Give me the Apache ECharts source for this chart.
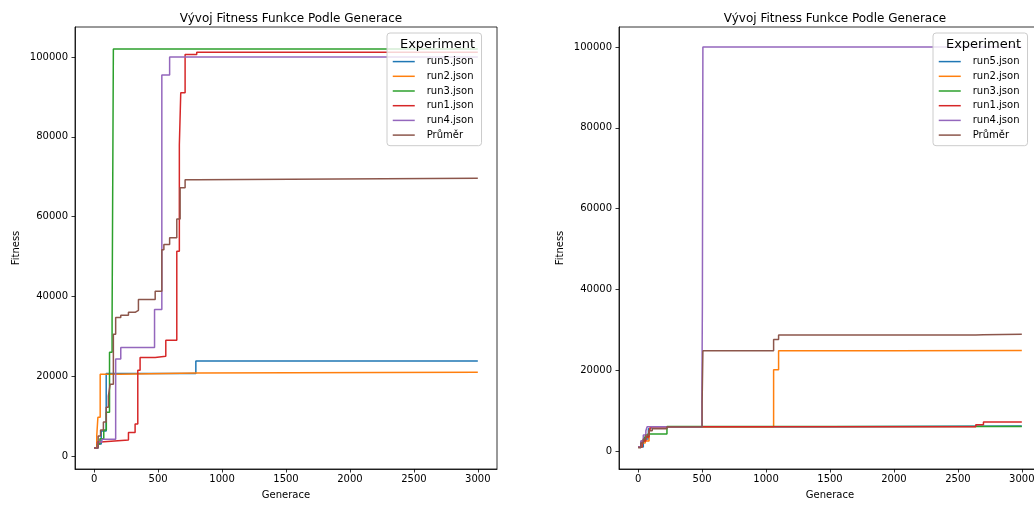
<!DOCTYPE html>
<html><head><meta charset="utf-8">
<script src="https://cdn.jsdelivr.net/npm/echarts@6/dist/echarts.min.js"></script>
<style>html,body{margin:0;padding:0;background:#fff;overflow:hidden;width:1034px;height:505px}#c{width:1044px;height:505px}</style>
</head><body><div id="c"></div>
<script>
const seriesNames = ['run5.json','run2.json','run3.json','run1.json','run4.json','Průměr'];
const seriesColors = ['#1f77b4','#ff7f0e','#2ca02c','#d62728','#9467bd','#8c564b'];
const xTicks = [0,500,1000,1500,2000,2500,3000];
const yTicks = [0,20000,40000,60000,80000,100000];
const chartTitle = 'Vývoj Fitness Funkce Podle Generace';
const xName = 'Generace';
const yName = 'Fitness';
const legendTitle = 'Experiment';

// Left panel: [generation, fitness] step points
const L_run5 = [[0,2000],[30,3000],[55,6300],[94,20700],[795,23800],[3000,23800]];
const L_run2 = [[0,2000],[20,5000],[29,9700],[47,20500],[200,20800],[800,21000],[3000,21000]];
const L_run3 = [[0,2000],[25,3000],[45,4300],[75,6500],[95,11000],[120,26000],[140,34500],[150,102000],[3000,102000]];
const L_run1 = [[0,2000],[25,3500],[50,4000],[268,5900],[320,8000],[341,21500],[359,24700],[477,25000],[560,29000],[646,51300],[666,78000],[677,91000],[711,100600],[802,101200],[3000,101200]];
const L_run4 = [[0,2000],[30,3500],[60,4200],[168,24300],[208,27200],[472,36700],[529,95500],[590,100000],[3000,100000]];
const L_mean = [[0,2000],[31,5000],[50,6500],[72,8500],[94,12200],[111,15000],[125,18000],[150,30500],[168,34700],[208,35300],[268,36000],[320,36500],[346,39200],[477,41300],[529,51700],[545,53000],[590,54700],[646,59400],[672,67200],[711,69200],[800,69600],[3000,69600]];

// Right panel
const R_run5 = [[0,1000],[40,3000],[80,5500],[100,6000],[1500,6200],[3000,6200]];
const R_run2 = [[0,1000],[30,2000],[55,2500],[85,4500],[95,6000],[1059,20100],[1098,24800],[2000,24900],[3000,24900]];
const R_run3 = [[0,1000],[25,2500],[50,3500],[75,4200],[225,6100],[3000,6100]];
const R_run1 = [[0,1000],[30,2500],[60,3500],[85,5000],[100,6000],[2640,6500],[2700,7200],[3000,7200]];
const R_run4 = [[0,1000],[20,2500],[40,4000],[60,5000],[70,6000],[498,12000],[502,36000],[506,100000],[3000,100000]];
const R_mean = [[0,800],[20,2000],[40,3000],[60,4000],[85,5000],[110,5500],[225,6000],[500,12000],[506,24800],[1059,27600],[1098,28700],[2640,28800],[2700,28900],[3000,28900]];

const leftData = [L_run5, L_run2, L_run3, L_run1, L_run4, L_mean];
const rightData = [R_run5, R_run2, R_run3, R_run1, R_run4, R_mean];

const FONT = 'DejaVu Sans';
const chart = echarts.init(document.getElementById('c'), null, {renderer:'canvas'});

function mkX(gridIndex){
  return {
    type:'value', gridIndex, min:-150, max:3150,
    name:xName, nameLocation:'middle', nameGap:21,
    nameTextStyle:{color:'#000', fontSize:10, fontFamily:FONT},
    axisLine:{onZero:false, lineStyle:{color:'#000', width:0.8}},
    axisTick:{show:true, length:3.5, customValues:xTicks, lineStyle:{color:'#000', width:0.8}},
    axisLabel:{customValues:xTicks, margin:5, color:'#000', fontSize:10, fontFamily:FONT, formatter:v=>String(v)},
    splitLine:{show:false}
  };
}
function mkY(gridIndex, min, max){
  return {
    type:'value', gridIndex, min, max,
    name:yName, nameLocation:'middle', nameGap:54, nameRotate:90,
    nameTextStyle:{color:'#000', fontSize:10, fontFamily:FONT},
    axisLine:{onZero:false, lineStyle:{color:'#000', width:0.8}},
    axisTick:{show:true, length:3.5, customValues:yTicks, lineStyle:{color:'#000', width:0.8}},
    axisLabel:{customValues:yTicks, margin:7, color:'#000', fontSize:10, fontFamily:FONT, formatter:v=>String(v)},
    splitLine:{show:false}
  };
}
function mkLegend(left){
  return {
    orient:'vertical', left, top:33,
    data:seriesNames,
    padding:[23,8,5,5],
    itemWidth:22, itemHeight:14, itemGap:3.5,
    itemStyle:{opacity:0},
    lineStyle:{width:1.5},
    backgroundColor:'rgba(255,255,255,0.8)',
    borderColor:'#cccccc', borderWidth:1, borderRadius:3,
    textStyle:{color:'#000', fontSize:10, fontFamily:FONT, padding:[0,0,0,7]},
    z:10
  };
}
const series = [];
[leftData, rightData].forEach((set, g) => {
  set.forEach((d, i) => {
    series.push({
      type:'line', name:seriesNames[i], data:d, step:'end',
      xAxisIndex:g, yAxisIndex:g, symbol:'none', showSymbol:false,
      lineStyle:{color:seriesColors[i], width:1.5}, itemStyle:{color:seriesColors[i]},
      emphasis:{disabled:true}, z:2+i*0.01
    });
  });
});

chart.setOption({
  animation:false,
  backgroundColor:'#fff',
  title:[
    {text:chartTitle, left:286, top:8, textAlign:'center', textStyle:{fontSize:12, fontWeight:'normal', color:'#000', fontFamily:FONT}},
    {text:chartTitle, left:830, top:8, textAlign:'center', textStyle:{fontSize:12, fontWeight:'normal', color:'#000', fontFamily:FONT}}
  ],
  grid:[
    {left:75, top:27, width:422, height:443, show:true, borderColor:'#000', borderWidth:0.8, backgroundColor:'transparent'},
    {left:619, top:27, width:422, height:443, show:true, borderColor:'#000', borderWidth:0.8, backgroundColor:'transparent'}
  ],
  xAxis:[mkX(0), mkX(1)],
  yAxis:[mkY(0,-3250,107500), mkY(1,-4444,104938)],
  legend:[mkLegend(387), mkLegend(933)],
  graphic:[
    {type:'text', x:437.5, y:45, z:100, style:{text:legendTitle, fill:'#000', fontSize:13, fontFamily:FONT, align:'center', verticalAlign:'middle'}},
    {type:'text', x:983.5, y:45, z:100, style:{text:legendTitle, fill:'#000', fontSize:13, fontFamily:FONT, align:'center', verticalAlign:'middle'}}
  ],
  series
});
</script></body></html>
